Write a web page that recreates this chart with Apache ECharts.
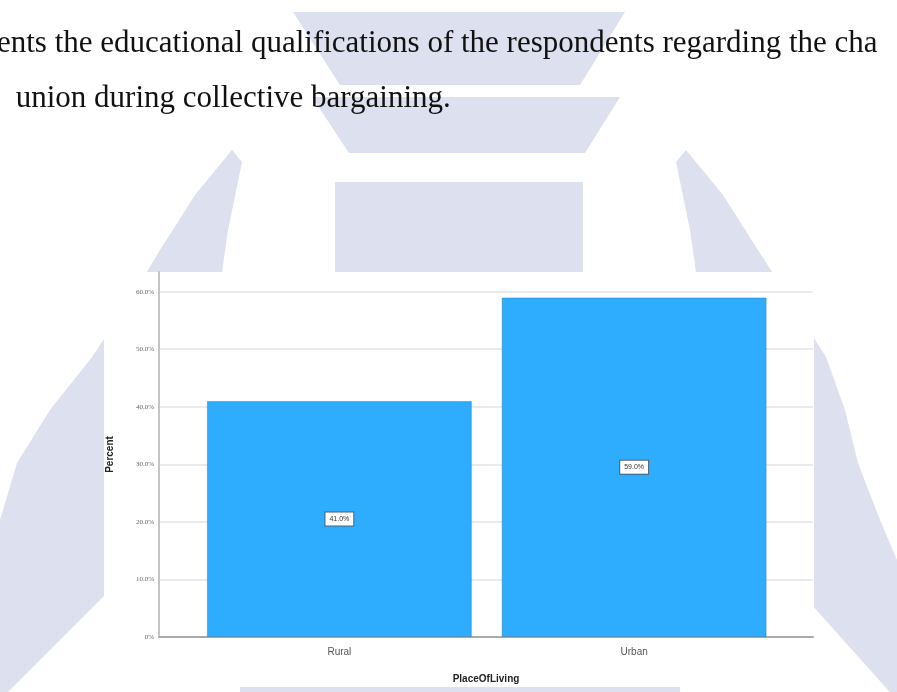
<!DOCTYPE html>
<html>
<head>
<meta charset="utf-8">
<script src="https://cdn.jsdelivr.net/npm/echarts@6/dist/echarts.min.js"></script>
<style>html,body{margin:0;padding:0;background:#fff}#c{width:897px;height:692px}</style>
</head>
<body>
<div id="c"></div>
<script>
// ---- data ----
const categories = ['Rural', 'Urban'];
const percentValues = [41.0, 59.0];
const yTickValues = [0, 10, 20, 30, 40, 50, 60];
const xAxisTitle = 'PlaceOfLiving';
const yAxisTitle = 'Percent';
const textLine1 = 'ents the educational qualifications of the respondents regarding the cha';
const textLine2 = ' union during collective bargaining.';

const chart = echarts.init(document.getElementById('c'), null, {renderer: 'canvas'});
const WM = '#dde0ee';

const barData = categories.map((c, i) => [i + 1, percentValues[i]]);
const yMax = 63.42;
// hide split line drawn at the (non-nice) max
const splitColors = yTickValues.map(() => '#e4e4e4').concat(['rgba(0,0,0,0)']);

chart.setOption({
  backgroundColor: '#ffffff',
  animation: false,
  graphic: [
    // watermark shapes
    {type: 'polygon', z: -20, shape: {points: [[293,12],[625,12],[580,85],[340,85]]}, style: {fill: WM}},
    {type: 'polygon', z: -20, shape: {points: [[312,97],[620,97],[585,153],[349,153]]}, style: {fill: WM}},
    {type: 'rect', z: -20, shape: {x: 335, y: 182, width: 248, height: 200}, style: {fill: WM}},
    {type: 'polygon', z: -20, shape: {points: [[232,150],[242,162],[228,230],[218,300],[200,500],[0,700],[0,520],[17,463],[50,410],[92,357],[130,300],[160,250],[195,195]]}, style: {fill: WM}},
    {type: 'polygon', z: -20, shape: {points: [[686,150],[723,195],[758,250],[790,300],[826,357],[845,410],[858,463],[880,520],[897,560],[897,700],[718,500],[700,300],[690,230],[676,162]]}, style: {fill: WM}},
    {type: 'rect', z: -20, shape: {x: 240, y: 686, width: 440, height: 10}, style: {fill: WM}},
    // white chart panel
    {type: 'rect', z: -10, shape: {x: 104, y: 272, width: 710, height: 415}, style: {fill: '#ffffff'}},
    // surrounding document text
    {type: 'text', z: 10, x: -3, y: 28, style: {text: textLine1, font: '31px "Liberation Serif", "Times New Roman", serif', fill: '#111'}},
    {type: 'text', z: 10, x: 8, y: 83, style: {text: textLine2, font: '31px "Liberation Serif", "Times New Roman", serif', fill: '#111'}}
  ],
  grid: {left: 159, right: 84, top: 272, bottom: 55, containLabel: false},
  xAxis: {
    type: 'value',
    min: 1 - 180.5 / 295,
    max: 2 + 179 / 295,
    splitLine: {show: false},
    axisTick: {show: false},
    axisLine: {show: true, onZero: false, lineStyle: {color: '#a9a9a9', width: 2}},
    axisLabel: {
      customValues: categories.map((c, i) => i + 1),
      formatter: v => categories[Math.round(v) - 1] || '',
      fontSize: 10, color: '#555', margin: 10,
      fontFamily: 'Liberation Sans, Arial, sans-serif'
    },
    name: xAxisTitle,
    nameLocation: 'middle',
    nameGap: 37,
    nameTextStyle: {fontSize: 10, fontWeight: 'bold', color: '#222', fontFamily: 'Liberation Sans, Arial, sans-serif'}
  },
  yAxis: {
    type: 'value',
    min: 0,
    max: yMax,
    interval: 10,
    axisTick: {show: false},
    axisLine: {show: true, lineStyle: {color: '#c4c4c4', width: 2}},
    splitLine: {show: true, lineStyle: {color: splitColors, width: 1.5}},
    axisLabel: {
      showMaxLabel: false,
      formatter: v => (yTickValues.indexOf(v) < 0 ? '' : (v === 0 ? '0%' : v.toFixed(1) + '%')),
      fontSize: 7, color: '#666', margin: 5,
      fontFamily: 'Liberation Serif, Times New Roman, serif'
    },
    name: yAxisTitle,
    nameLocation: 'middle',
    nameRotate: 90,
    nameGap: 44,
    nameTextStyle: {fontSize: 10, fontWeight: 'bold', color: '#222', fontFamily: 'Liberation Sans, Arial, sans-serif'}
  },
  series: [{
    type: 'bar',
    data: barData,
    barWidth: 265,
    itemStyle: {color: '#2eacfd', borderColor: 'rgba(30,100,160,0.35)', borderWidth: 1},
    label: {
      show: true,
      position: 'inside',
      formatter: p => p.value[1].toFixed(1) + '%',
      fontSize: 7,
      color: '#333',
      backgroundColor: '#ffffff',
      borderColor: '#4a6178',
      borderWidth: 1,
      padding: [3, 4],
      fontFamily: 'Liberation Sans, Arial, sans-serif'
    }
  }]
});
</script>
</body>
</html>
